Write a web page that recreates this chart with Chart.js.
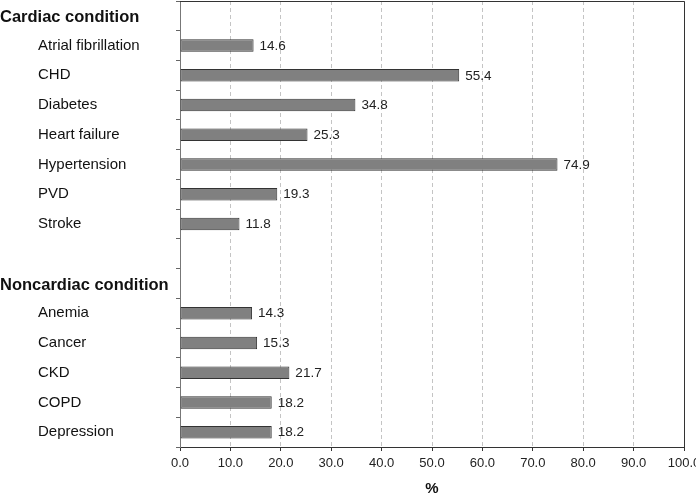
<!DOCTYPE html>
<html>
<head>
<meta charset="utf-8">
<script src="https://cdn.jsdelivr.net/npm/chart.js@4.4.1/dist/chart.umd.min.js"></script>
<style>
  html, body { margin: 0; padding: 0; background: #fff; }
  #wrap { width: 696px; height: 498px; }
</style>
</head>
<body>
<div id="wrap"><canvas id="c" width="696" height="498"></canvas></div>
<script>
const categories = [
  "Cardiac condition", "Atrial fibrillation", "CHD", "Diabetes", "Heart failure",
  "Hypertension", "PVD", "Stroke", "",
  "Noncardiac condition", "Anemia", "Cancer", "CKD", "COPD", "Depression"
];
const headers = ["Cardiac condition", "Noncardiac condition"];
const values = [
  null, 14.6, 55.4, 34.8, 25.3, 74.9, 19.3, 11.8, null,
  null, 14.3, 15.3, 21.7, 18.2, 18.2
];
const xTicks = [0, 10, 20, 30, 40, 50, 60, 70, 80, 90, 100];

const FONT = "'Liberation Sans', Arial, Helvetica, sans-serif";

const customDraw = {
  id: 'customDraw',
  afterDatasetsDraw(chart) {
    const ctx = chart.ctx;
    const ca = chart.chartArea;
    const y = chart.scales.y;
    const x = chart.scales.x;
    ctx.save();
    // frame top and right
    ctx.strokeStyle = '#333';
    ctx.lineWidth = 1;
    ctx.beginPath();
    ctx.moveTo(ca.left, ca.top + 0.5);
    ctx.lineTo(ca.right + 0.5, ca.top + 0.5);
    ctx.lineTo(ca.right + 0.5, ca.bottom);
    ctx.stroke();
    // category labels
    ctx.textBaseline = 'middle';
    ctx.textAlign = 'left';
    ctx.fillStyle = '#111';
    categories.forEach((c, i) => {
      if (!c) return;
      const py = y.getPixelForValue(i);
      if (headers.includes(c)) {
        ctx.font = "bold 16.5px " + FONT;
        ctx.fillText(c, 0, py + 2);
      } else {
        ctx.font = "15px " + FONT;
        ctx.fillText(c, 38, py);
      }
    });
    // value labels
    ctx.font = "13.5px " + FONT;
    ctx.fillStyle = '#222';
    const meta = chart.getDatasetMeta(0);
    values.forEach((v, i) => {
      if (v == null) return;
      const bar = meta.data[i];
      ctx.fillText(v.toFixed(1), x.getPixelForValue(v) + 6, bar.y + 0.5);
    });
    ctx.restore();
  }
};

new Chart(document.getElementById('c'), {
  type: 'bar',
  data: {
    labels: categories,
    datasets: [{
      data: values,
      backgroundColor: '#808080',
      borderColor: '#333333',
      borderWidth: 1,
      borderSkipped: false,
      barPercentage: 0.42,
      categoryPercentage: 1.0
    }]
  },
  options: {
    indexAxis: 'y',
    responsive: false,
    animation: false,
    layout: { padding: { top: 1, right: 12, left: 0, bottom: 0 } },
    plugins: { legend: { display: false }, tooltip: { enabled: false } },
    scales: {
      x: {
        type: 'linear',
        min: 0, max: 100,
        afterBuildTicks: (s) => { s.ticks = xTicks.map(v => ({ value: v })); },
        ticks: {
          callback: (v) => Number(v).toFixed(1),
          font: { family: FONT, size: 13 },
          color: '#222',
          padding: 5,
          maxRotation: 0
        },
        grid: {
          color: '#c4c4c4',
          tickColor: '#333',
          tickBorderDash: [],
          tickLength: 4,
          drawTicks: true
        },
        border: { display: true, color: '#333', width: 1, dash: [4, 3] },
        title: {
          display: true,
          text: '%',
          font: { family: FONT, size: 15, weight: 'bold' },
          color: '#111',
          padding: { top: 6, bottom: 0 }
        },
        afterFit: (s) => { s.height = 51; s.paddingRight = 0; s.paddingLeft = 0; }
      },
      y: {
        type: 'category',
        offset: true,
        ticks: { display: false },
        grid: {
          offset: true,
          drawOnChartArea: false,
          drawTicks: true,
          tickLength: 4,
          color: '#666'
        },
        border: { display: true, color: '#777', width: 1 },
        afterFit: (s) => { s.width = 180; }
      }
    }
  },
  plugins: [customDraw]
});
</script>
</body>
</html>
